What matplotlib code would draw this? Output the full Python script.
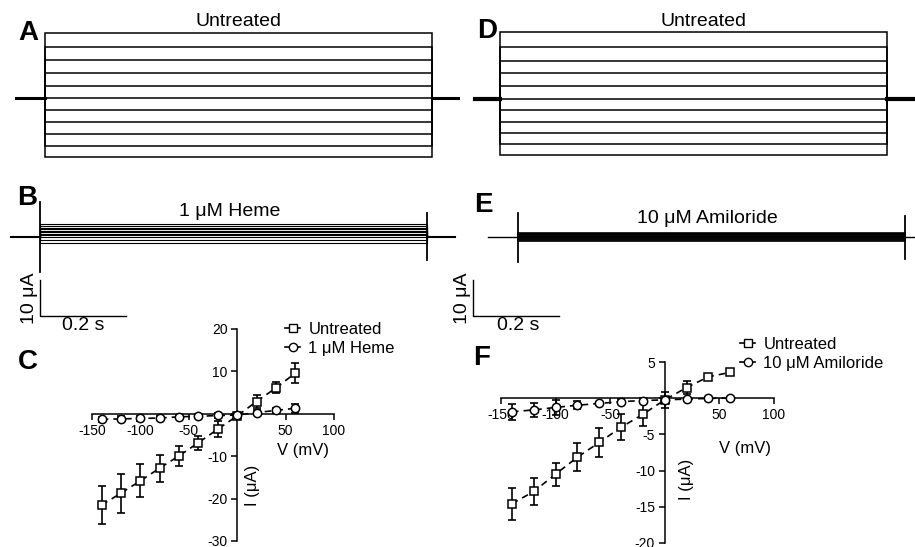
import matplotlib
matplotlib.use("Agg")
import matplotlib.pyplot as plt
from matplotlib.lines import Line2D

plt.rcParams['font.family'] = ['Liberation Sans', 'DejaVu Sans']

W, H = 915, 547
PX_PER_S = 430.0     # horizontal scale of the current traces
PX_PER_UA = 3.6      # vertical scale of the current traces

# ---- current traces (uA), one level per voltage sweep ----
STEP_DUR = 0.9       # s
levels_a = [18.1, 14.2, 10.6, 6.9, 3.3, 0.0, -3.3, -6.7, -10.0, -13.3, -16.4]
levels_d = [18.6, 14.4, 10.6, 7.2, 3.6, 0.0, -3.1, -6.4, -9.4, -12.5, -15.6]
levels_b = [3.5, 3.0, 2.5, 2.1, 1.7, 1.3, 0.9, 0.5, 0.0, -0.7, -1.6]
levels_e = [1.1, 0.9, 0.7, 0.5, 0.3, 0.1, -0.1, -0.4, -0.6, -0.9, -1.1]
# capacitive spikes (uA): onset low/high, offset low/high
spikes_b = [-9.7, 9.7, -6.4, 6.7]
spikes_e = [-6.9, 6.7, -6.1, 5.8]

# ---- I-V data ----
volts = [-140, -120, -100, -80, -60, -40, -20, 0, 20, 40, 60]
c_untr = [-21.5, -18.7, -15.8, -12.8, -9.9, -6.8, -3.6, -0.5, 2.9, 6.1, 9.6]
c_untr_err = [4.4, 4.6, 3.9, 3.2, 2.4, 1.65, 1.8, 0.5, 1.6, 1.3, 2.4]
c_heme = [-1.3, -1.2, -1.1, -1.0, -0.7, -0.6, -0.4, -0.3, 0.3, 0.8, 1.3]
c_heme_err = [0.6, 0.6, 0.5, 0.5, 0.5, 0.5, 0.5, 0.4, 0.5, 0.6, 1.0]
f_untr = [-14.6, -12.9, -10.5, -8.15, -6.1, -4.0, -2.2, -0.2, 1.5, 3.0, 3.6]
f_untr_err = [2.2, 1.9, 1.6, 1.9, 2.0, 1.8, 1.6, 1.1, 0.9, 0.3, 0.3]
f_amil = [-1.85, -1.6, -1.25, -0.95, -0.7, -0.45, -0.3, -0.2, -0.1, 0.0, 0.05]
f_amil_err = [1.1, 1.0, 1.0, 0.55, 0.2, 0.3, 0.3, 0.3, 0.2, 0.2, 0.2]

fig = plt.figure(figsize=(9.15, 5.47), dpi=100, facecolor='w')


def trace_axes(left, top, width, height, x0, y0):
    ax = fig.add_axes([left / W, 1 - (top + height) / H, width / W, height / H])
    ax.set_xlim((left - x0) / PX_PER_S, (left + width - x0) / PX_PER_S)
    ax.set_ylim((y0 - (top + height)) / PX_PER_UA, (y0 - top) / PX_PER_UA)
    ax.axis('off')
    return ax


def plot_sweeps(ax, levels, t_pre, t_post, lw=1.0, base_lw=2.2):
    for lv in levels:
        ax.plot([0, 0, STEP_DUR, STEP_DUR], [0, lv, lv, 0], color='k', lw=lw,
                solid_joinstyle='miter')
    ax.plot([t_pre, 0], [0, 0], color='k', lw=base_lw)
    ax.plot([STEP_DUR, t_post], [0, 0], color='k', lw=base_lw)


def plot_spikes(ax, sp):
    ax.plot([0, 0], [sp[0], sp[1]], color='k', lw=1.3)
    ax.plot([STEP_DUR, STEP_DUR], [sp[2], sp[3]], color='k', lw=1.3)


def scale_bar(ax, t0, i0):
    ax.plot([t0, t0, t0 + 0.2], [i0 + 10, i0, i0], color='k', lw=1.0)


# A
ax_a = trace_axes(5, 15, 455, 160, 45, 98)
plot_sweeps(ax_a, levels_a, -0.067, 0.965, lw=1.1)
# D
ax_d = trace_axes(460, 15, 455, 160, 500, 99)
plot_sweeps(ax_d, levels_d, -0.058, 0.97, lw=1.1, base_lw=3)
# B
ax_b = trace_axes(5, 185, 455, 150, 40, 237)
plot_sweeps(ax_b, levels_b, -0.067, 0.965, lw=0.8, base_lw=1.5)
plot_spikes(ax_b, spikes_b)
scale_bar(ax_b, 0.0, -21.9)
# E
ax_e = trace_axes(460, 185, 455, 150, 518, 237)
plot_sweeps(ax_e, levels_e, -0.07, 0.93, lw=1.2, base_lw=1.0)
plot_spikes(ax_e, spikes_e)
scale_bar(ax_e, -0.105, -21.9)


def ftext(x, y, s, **kw):
    kw.setdefault('ha', 'center')
    kw.setdefault('va', 'center')
    fig.text(x / W, 1 - y / H, s, **kw)


for lbl, x, y in [('A', 28, 33), ('D', 487, 31), ('B', 27, 198), ('E', 483, 205),
                  ('C', 28, 362), ('F', 482, 358)]:
    ftext(x, y, lbl, fontsize=20, fontweight='bold')

ftext(238, 22, 'Untreated', fontsize=14)
ftext(703, 22, 'Untreated', fontsize=14)
ftext(230, 212, '1 \u03bcM Heme', fontsize=14)
ftext(707, 218, '10 \u03bcM Amiloride', fontsize=14)
ftext(29, 298, '10 \u03bcA', fontsize=14, rotation=90)
ftext(83, 326, '0.2 s', fontsize=14)
ftext(462, 298, '10 \u03bcA', fontsize=14, rotation=90)
ftext(518, 326, '0.2 s', fontsize=14)


def iv_axes(left, right, top, bottom, xlim, ylim, yticks):
    ax = fig.add_axes([left / W, 1 - bottom / H, (right - left) / W, (bottom - top) / H])
    ax.patch.set_alpha(0)
    ax.set_xlim(xlim)
    ax.set_ylim(ylim)
    for s in ['top', 'right']:
        ax.spines[s].set_visible(False)
    ax.spines['left'].set_position(('data', 0))
    ax.spines['bottom'].set_position(('data', 0))
    for s in ['left', 'bottom']:
        ax.spines[s].set_linewidth(1.1)
    xt = [-150, -100, -50, 0, 50, 100]
    ax.set_xticks(xt)
    ax.set_xticklabels([str(v) if v != 0 else '' for v in xt])
    ax.set_yticks(yticks)
    ax.set_yticklabels([str(v) if v != 0 else '' for v in yticks])
    ax.tick_params(labelsize=10, width=1.1, length=4, pad=3)
    return ax


def iv_series(ax, y, err, marker):
    ax.errorbar(volts, y, yerr=err, fmt='none', ecolor='k', elinewidth=1.2,
                capsize=3, capthick=1.2, zorder=3)
    ax.plot(volts, y, color='k', lw=1.2, ls=(0, (4, 3)), zorder=2)
    ax.plot(volts, y, ls='none', marker=marker, ms=6, mfc='white', mec='k',
            mew=1.1, zorder=4, clip_on=False)


def iv_legend(ax, labels, x, y):
    handles = [Line2D([], [], color='k', lw=1.2, marker=m, ms=6, mfc='white', mec='k')
               for m in ['s', 'o']]
    ax.legend(handles, labels, loc='upper left', bbox_to_anchor=(x / W, 1 - y / H),
              bbox_transform=fig.transFigure, frameon=False, fontsize=12,
              handlelength=0.9, handletextpad=0.5, labelspacing=0.25,
              borderpad=0, borderaxespad=0)


# C
ax_c = iv_axes(92, 334, 329, 541, (-150, 100), (-30, 20), [-30, -20, -10, 0, 10, 20])
iv_series(ax_c, c_untr, c_untr_err, 's')
iv_series(ax_c, c_heme, c_heme_err, 'o')
iv_legend(ax_c, ['Untreated', '1 \u03bcM Heme'], 285, 322)
ftext(303, 451, 'V (mV)', fontsize=12)
ftext(252, 485, 'I (\u03bcA)', fontsize=12, rotation=90)

# F
ax_f = iv_axes(501, 774, 362.3, 542.7, (-150, 100), (-20, 5), [-20, -15, -10, -5, 0, 5])
iv_series(ax_f, f_untr, f_untr_err, 's')
iv_series(ax_f, f_amil, f_amil_err, 'o')
iv_legend(ax_f, ['Untreated', '10 \u03bcM Amiloride'], 740, 337)
ftext(745, 448, 'V (mV)', fontsize=12)
ftext(687, 479, 'I (\u03bcA)', fontsize=12, rotation=90)

fig.savefig('out.png', dpi=100, facecolor='w')
